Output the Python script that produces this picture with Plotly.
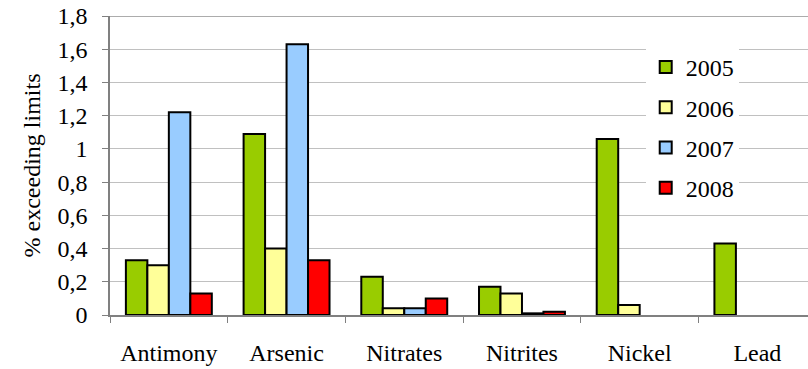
import plotly.graph_objects as go

categories = ["Antimony", "Arsenic", "Nitrates", "Nitrites", "Nickel", "Lead"]
years = ["2005", "2006", "2007", "2008"]
v2005 = [0.33, 1.09, 0.23, 0.17, 1.06, 0.43]
v2006 = [0.30, 0.40, 0.04, 0.13, 0.06, None]
v2007 = [1.22, 1.63, 0.04, 0.01, None, None]
v2008 = [0.13, 0.33, 0.10, 0.02, None, None]
series = [v2005, v2006, v2007, v2008]
colors = ["#99CC00", "#FFFF99", "#99CCFF", "#FF0000"]
y_ticks = [0, 0.2, 0.4, 0.6, 0.8, 1.0, 1.2, 1.4, 1.6, 1.8]

FONT = "Liberation Serif, Times New Roman, serif"
FS = 24

fig = go.Figure()
for i, (yr, vals, col) in enumerate(zip(years, series, colors)):
    fig.add_trace(go.Bar(
        x=categories, y=vals, name=yr,
        marker=dict(color=col, line=dict(color="black", width=2)),
        legendgroup=yr,
    ))

fig.update_layout(
    width=808, height=369,
    margin=dict(l=110, r=0, t=16, b=54),
    paper_bgcolor="white", plot_bgcolor="white",
    barmode="group", bargap=0.27, bargroupgap=0,
    separators=",.",
    font=dict(family=FONT, size=FS, color="black"),
    showlegend=True,
    legend=dict(x=0.7675, y=0.903, xanchor="left", yanchor="top",
                bgcolor="white", borderwidth=0,
                font=dict(family=FONT, size=FS, color="black"),
                tracegroupgap=6, itemwidth=30),
    xaxis=dict(
        type="category", range=[-0.5, 5.43], automargin=False,
        tickson="boundaries", ticks="outside", ticklen=6, tickcolor="#808080",
        showline=True, linecolor="#808080", linewidth=1.5,
        showgrid=False, tickfont=dict(family=FONT, size=FS), ticklabelstandoff=15,
    ),
    yaxis=dict(
        range=[0, 1.8], tickvals=y_ticks, ticks="outside", ticklen=6, automargin=False,
        tickcolor="#808080", showline=True, linecolor="#808080", linewidth=1.5,
        showgrid=True, gridcolor="#C0C0C0", gridwidth=1, zeroline=False,
        tickfont=dict(family=FONT, size=FS), ticklabelstandoff=10,
        ticklabeloverflow="allow",
        title=dict(text="% exceeding limits", font=dict(family=FONT, size=FS), standoff=10),
    ),
    shapes=[dict(type="line", xref="paper", yref="y", x0=0, x1=1, y0=1.8, y1=1.8,
                 line=dict(color="#909090", width=1.5))],
)

fig.write_html("out.html", config={"displayModeBar": False},
               post_script="document.body.style.margin='0px';document.body.style.padding='0px';")
